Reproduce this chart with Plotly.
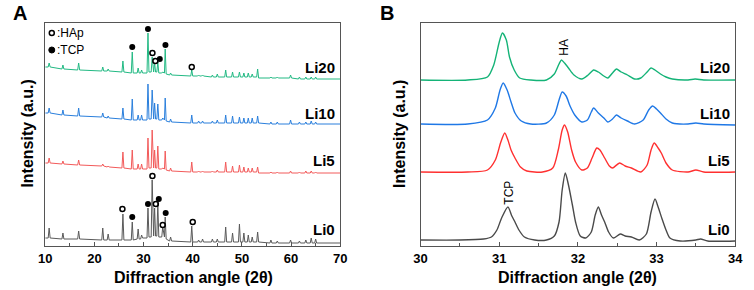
import plotly.graph_objects as go

# ---------------- Panel A data (2theta, intensity a.u.) ----------------
X_A = [10.0,
       10.6, 10.8, 11.0, 13.4, 13.6, 13.8, 16.6, 16.8, 17.0,
       21.5, 21.7, 21.9, 22.6, 22.8, 23.0, 25.6, 25.8, 26.0,
       27.5, 27.7, 27.9, 28.7, 28.9, 29.1, 29.4, 29.6, 29.8,
       30.7, 30.9, 31.1, 31.55, 31.75, 31.95, 32.05, 32.25, 32.45,
       32.7, 32.9, 33.1, 33.7, 33.9, 34.1, 34.25, 34.4, 34.6,
       35.3, 35.5, 35.7, 39.6, 39.8, 40.0, 41.0, 41.2, 41.4,
       41.8, 42.0, 42.2, 43.8, 44.0, 44.2, 44.8, 45.0, 45.2,
       46.5, 46.7, 46.9, 47.9, 48.1, 48.3, 49.3, 49.5, 49.7,
       50.2, 50.4, 50.6, 51.1, 51.3, 51.5, 51.9, 52.1, 52.3,
       53.0, 53.2, 53.4, 55.7, 55.9, 56.1, 57.0, 57.2, 57.4,
       59.7, 59.9, 60.1, 61.5, 61.7, 61.9, 62.8, 63.0, 63.2,
       63.9, 64.1, 64.3, 64.8, 65.0, 65.2,
       70.0]

LI0_A = [8,
         8, 18, 8, 7, 13, 7, 7, 15, 7,
         6, 18, 6, 6, 12, 6, 6, 32, 6,
         6, 24, 6, 7, 17, 7, 7, 11, 8,
         8, 38, 9, 9, 66, 10, 10, 38, 10,
         10, 43, 9, 9, 19, 9, 9, 29, 7,
         5, 9, 5, 4, 20, 4, 4, 6, 4,
         4, 7, 4, 4, 7, 4, 4, 7, 4,
         4, 19, 4, 4, 13, 4, 4, 22, 4,
         4, 13, 4, 4, 11, 4, 4, 9, 4,
         4, 14, 4, 3, 6, 3, 3, 5, 3,
         3, 6, 3, 3, 5, 3, 3, 6, 3,
         3, 8, 3, 3, 7, 3,
         3]

LI5_A = [83,
         83, 88, 83, 82, 85, 82, 81, 86, 81,
         80, 82, 80, 79, 80, 79, 78, 94, 78,
         77, 96, 77, 77, 82, 77, 77, 82, 77,
         77, 108, 78, 78, 116, 78, 78, 96, 78,
         78, 100, 77, 77, 78, 77, 77, 95, 76,
         75, 78, 75, 74, 84, 74, 74, 75, 74,
         74, 75, 74, 74, 75, 74, 74, 76, 74,
         74, 84, 74, 74, 80, 74, 74, 81, 74,
         74, 79, 74, 74, 78, 74, 74, 78, 74,
         74, 79, 73, 73, 74, 73, 73, 74, 73,
         73, 75, 73, 73, 74, 73, 73, 75, 73,
         73, 75, 73, 73, 74, 73,
         73]

LI10_A = [133,
          133, 138, 133, 131, 136, 131, 130, 138, 130,
          129, 133, 129, 128, 130, 128, 127, 138, 127,
          126, 147, 126, 126, 131, 126, 126, 131, 126,
          126, 162, 127, 127, 156, 127, 127, 143, 127,
          127, 142, 126, 126, 128, 126, 126, 148, 125,
          124, 127, 124, 123, 131, 123, 123, 125, 123,
          123, 125, 123, 123, 125, 123, 123, 126, 123,
          123, 131, 123, 123, 130, 123, 123, 129, 123,
          123, 128, 123, 123, 128, 123, 123, 128, 123,
          123, 130, 123, 122, 124, 122, 122, 124, 122,
          122, 126, 122, 122, 124, 122, 122, 124, 122,
          122, 125, 122, 122, 124, 122,
          122]

LI20_A = [179,
          179, 183, 179, 177, 181, 177, 176, 183, 176,
          175, 179, 175, 175, 177, 175, 174, 185, 174,
          173, 194, 173, 173, 178, 173, 173, 176, 173,
          173, 213, 174, 174, 189, 174, 174, 183, 174,
          174, 184, 173, 173, 174, 173, 173, 197, 172,
          171, 173, 171, 170, 176, 170, 170, 171, 170,
          170, 171, 170, 169, 171, 169, 169, 172, 169,
          169, 176, 169, 169, 174, 169, 169, 174, 169,
          169, 173, 169, 169, 173, 169, 169, 172, 169,
          169, 177, 168, 168, 169, 168, 168, 169, 168,
          168, 171, 168, 167, 169, 167, 167, 169, 167,
          167, 169, 167, 167, 169, 167,
          167]

# phase markers (panel A)
HAP_LI0_X = [25.7, 31.8, 32.5, 33.9, 40.0]
HAP_LI0_Y = [37, 70, 42, 21, 24]
TCP_LI0_X = [27.7, 30.9, 33.1, 34.5]
TCP_LI0_Y = [29, 42, 47, 33]
HAP_LI20_X = [31.8, 32.4, 39.8]
HAP_LI20_Y = [193, 185, 179]
TCP_LI20_X = [27.7, 30.9, 33.3, 34.45]
TCP_LI20_Y = [199, 217, 187, 201]

# ---------------- Panel B data (zoom 30-34) ----------------
LI0_BX = [30.0, 30.5, 30.8, 30.9, 30.97, 31.03, 31.11, 31.16, 31.2, 31.25, 31.32, 31.45,
          31.6, 31.7, 31.76, 31.8, 31.84, 31.88, 31.93, 31.97, 32.03, 32.1, 32.17, 32.22,
          32.26, 32.3, 32.34, 32.39, 32.45, 32.54, 32.6, 32.68, 32.78, 32.87, 32.93, 32.98,
          33.02, 33.07, 33.12, 33.17, 33.3, 33.5, 33.56, 33.65, 34.0]
LI0_BY = [6, 6, 7, 9, 16, 28, 39, 30, 24, 16, 9, 6,
          6, 10, 24, 56, 73, 61, 41, 24, 10, 8, 14, 31,
          39, 31, 24, 14, 8, 12, 10, 9, 6, 12, 34, 47,
          39, 27, 16, 8, 5, 6, 7, 5, 5]

LI5_BX = [30.0, 30.6, 30.85, 30.95, 31.02, 31.07, 31.11, 31.15, 31.2, 31.27, 31.35, 31.55,
          31.68, 31.75, 31.8, 31.83, 31.87, 31.92, 31.97, 32.05, 32.12, 32.18, 32.24, 32.28,
          32.34, 32.4, 32.44, 32.53, 32.6, 32.68, 32.8, 32.88, 32.93, 32.97, 33.02, 33.06,
          33.12, 33.2, 33.4, 33.5, 33.6, 34.0]
LI5_BY = [74, 74, 76, 86, 104, 113, 106, 96, 88, 79, 75, 74,
          78, 96, 116, 121, 114, 96, 84, 76, 78, 88, 98, 96,
          88, 80, 78, 83, 80, 78, 74, 81, 96, 103, 98, 93,
          83, 76, 74, 76, 74, 74]

LI10_BX = [30.0, 30.6, 30.85, 30.95, 31.01, 31.05, 31.1, 31.15, 31.2, 31.28, 31.4, 31.6,
           31.7, 31.76, 31.8, 31.85, 31.9, 31.96, 32.05, 32.12, 32.17, 32.2, 32.26, 32.33,
           32.38, 32.44, 32.49, 32.55, 32.63, 32.72, 32.83, 32.9, 32.95, 33.0, 33.05, 33.12,
           33.2, 33.4, 33.5, 33.6, 34.0]
LI10_BY = [122, 122, 126, 138, 156, 163, 156, 144, 133, 125, 122, 123,
           131, 146, 154, 150, 140, 131, 124, 126, 134, 138, 133, 128,
           124, 127, 131, 128, 125, 122, 126, 136, 140, 137, 133, 127,
           123, 122, 123, 122, 121]

LI20_BX = [30.0, 30.6, 30.85, 30.93, 31.0, 31.04, 31.09, 31.13, 31.19, 31.26, 31.4, 31.6,
           31.7, 31.76, 31.79, 31.83, 31.88, 31.95, 32.05, 32.13, 32.2, 32.26, 32.33, 32.38,
           32.44, 32.49, 32.55, 32.63, 32.72, 32.8, 32.88, 32.93, 32.98, 33.05, 33.12, 33.2,
           33.4, 33.49, 33.6, 34.0]
LI20_BY = [166, 166, 169, 181, 204, 213, 206, 189, 176, 168, 166, 166,
           172, 182, 186, 183, 178, 171, 167, 171, 176, 174, 170, 168,
           173, 177, 174, 171, 167, 168, 174, 178, 176, 172, 169, 167,
           166, 167, 166, 166]

SERIES = ["Li0", "Li5", "Li10", "Li20"]
COLORS_A = {"Li0": "#5a5a5a", "Li5": "#f25a5a", "Li10": "#2a7fdc", "Li20": "#22b983"}
COLORS_B = {"Li0": "#4a4a4a", "Li5": "#ff3030", "Li10": "#1f78e6", "Li20": "#14b377"}
LABEL_Y = {"Li0": 17, "Li5": 86, "Li10": 133, "Li20": 179}

A_TICKS = [10, 20, 30, 40, 50, 60, 70]
B_TICKS = [30, 31, 32, 33, 34]

FONT = "Arial, Liberation Sans, sans-serif"

fig = go.Figure()

a_y = {"Li0": LI0_A, "Li5": LI5_A, "Li10": LI10_A, "Li20": LI20_A}
for s in SERIES:
    fig.add_trace(go.Scatter(x=X_A, y=a_y[s], mode="lines", xaxis="x", yaxis="y",
                             line=dict(color=COLORS_A[s], width=1), showlegend=False))

b_x = {"Li0": LI0_BX, "Li5": LI5_BX, "Li10": LI10_BX, "Li20": LI20_BX}
b_y = {"Li0": LI0_BY, "Li5": LI5_BY, "Li10": LI10_BY, "Li20": LI20_BY}
for s in SERIES:
    fig.add_trace(go.Scatter(x=b_x[s], y=b_y[s], mode="lines", xaxis="x2", yaxis="y2",
                             line=dict(color=COLORS_B[s], width=1.4, shape="spline", smoothing=0.7),
                             showlegend=False))

open_m = dict(symbol="circle-open", size=5, color="black", line=dict(width=1.5, color="black"))
fill_m = dict(symbol="circle", size=6, color="black")
for xs, ys, m in [(HAP_LI0_X, HAP_LI0_Y, open_m), (TCP_LI0_X, TCP_LI0_Y, fill_m),
                  (HAP_LI20_X, HAP_LI20_Y, open_m), (TCP_LI20_X, TCP_LI20_Y, fill_m)]:
    fig.add_trace(go.Scatter(x=xs, y=ys, mode="markers", marker=m, xaxis="x", yaxis="y",
                             showlegend=False))

axis_common = dict(showline=True, linecolor="#555555", linewidth=1, mirror=True,
                   showgrid=False, zeroline=False, ticks="inside", ticklen=4, tickcolor="#555555",
                   tickfont=dict(family=FONT, size=13, color="black", weight="bold"))
yaxis_common = dict(showline=True, linecolor="#555555", linewidth=1, mirror=True,
                    showgrid=False, zeroline=False, showticklabels=False, ticks="",
                    range=[0, 223])

annotations = []
for s in SERIES:
    for xr, yr in [("x domain", "y"), ("x2 domain", "y2")]:
        annotations.append(dict(text="<b>%s</b>" % s, xref=xr, yref=yr, x=0.99, y=LABEL_Y[s],
                                xanchor="right", yanchor="middle", showarrow=False,
                                font=dict(family=FONT, size=15, color="black")))

for xc in [190, 582]:
    annotations.append(dict(text="<b>Diffraction angle (2θ)</b>", xref="paper", yref="paper",
                            x=xc / 754, y=1 - 277 / 290, xanchor="center", yanchor="middle",
                            showarrow=False, font=dict(family=FONT, size=16, color="black")))
for xc in [20, 400]:
    annotations.append(dict(text="<b>Intensity (a.u.)</b>", xref="paper", yref="paper",
                            x=xc / 754, y=1 - 134 / 290, xanchor="center", yanchor="middle",
                            textangle=-90, showarrow=False,
                            font=dict(family=FONT, size=16, color="black")))
annotations.append(dict(text="<b>A</b>", xref="paper", yref="paper", x=4 / 754, y=1.0,
                        xanchor="left", yanchor="top", showarrow=False,
                        font=dict(family=FONT, size=20, color="black")))
annotations.append(dict(text="<b>B</b>", xref="paper", yref="paper", x=379 / 754, y=1.0,
                        xanchor="left", yanchor="top", showarrow=False,
                        font=dict(family=FONT, size=20, color="black")))
annotations.append(dict(text=":HAp", xref="paper", yref="paper", x=49 / 754, y=1 - 33 / 290,
                        xanchor="left", yanchor="middle", showarrow=False,
                        font=dict(family=FONT, size=12, color="black")))
annotations.append(dict(text=":TCP", xref="paper", yref="paper", x=49 / 754, y=1 - 50 / 290,
                        xanchor="left", yanchor="middle", showarrow=False,
                        font=dict(family=FONT, size=12, color="black")))
annotations.append(dict(text="HA", xref="x2", yref="y2", x=31.82, y=199, textangle=-90,
                        xanchor="center", yanchor="middle", showarrow=False,
                        font=dict(family=FONT, size=12, color="black")))
annotations.append(dict(text="TCP", xref="x2", yref="y2", x=31.12, y=53, textangle=-90,
                        xanchor="center", yanchor="middle", showarrow=False,
                        font=dict(family=FONT, size=12, color="black")))

shapes = [
    dict(type="circle", xref="paper", yref="paper", xsizemode="pixel", ysizemode="pixel",
         xanchor=45.7 / 754, yanchor=1 - 33 / 290, x0=-2.5, x1=2.5, y0=-2.5, y1=2.5,
         line=dict(color="black", width=1.5), fillcolor="rgba(0,0,0,0)"),
    dict(type="circle", xref="paper", yref="paper", xsizemode="pixel", ysizemode="pixel",
         xanchor=45.7 / 754, yanchor=1 - 50 / 290, x0=-3, x1=3, y0=-3, y1=3,
         line=dict(color="black", width=1), fillcolor="black"),
]

fig.update_layout(
    width=754, height=290, margin=dict(l=0, r=0, t=0, b=0),
    paper_bgcolor="white", plot_bgcolor="white",
    xaxis=dict(domain=[39 / 754, 340 / 754], range=[10, 70], tickvals=A_TICKS,
               minor=dict(ticks="inside", dtick=5, ticklen=3, tickcolor="#555555"),
               anchor="y", **axis_common),
    yaxis=dict(domain=[1 - 246 / 290, 1 - 23 / 290], anchor="x", **yaxis_common),
    xaxis2=dict(domain=[422 / 754, 743 / 754], range=[30, 34], tickvals=B_TICKS,
                minor=dict(ticks="inside", dtick=0.5, ticklen=3, tickcolor="#555555"),
                anchor="y2", **axis_common),
    yaxis2=dict(domain=[1 - 246 / 290, 1 - 23 / 290], anchor="x2", **yaxis_common),
    annotations=annotations, shapes=shapes,
)

fig.write_html("out.html", config={"displayModeBar": False},
               post_script="document.body.style.margin='0';document.body.style.overflow='hidden';")
